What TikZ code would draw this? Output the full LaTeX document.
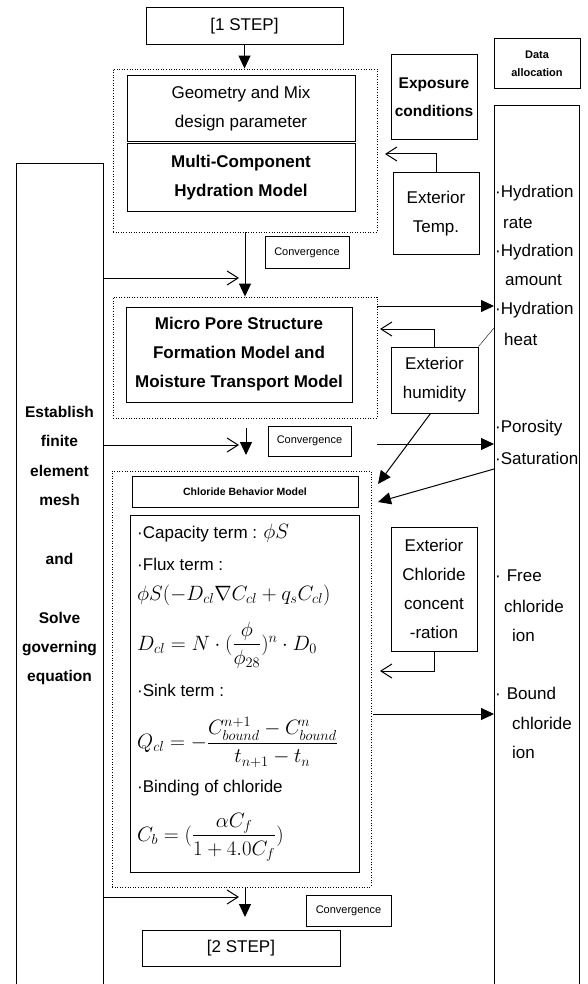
\documentclass[tikz,border=0pt]{standalone}
\usepackage{amsmath,amssymb}
\usepackage{fontspec}
\setmainfont{Liberation Sans}
\usepackage{tikz}
\usetikzlibrary{arrows.meta,positioning,calc}
\newcommand{\fs}{\fontsize{17}{29}\selectfont}

\begin{document}
\begin{tikzpicture}[x=1pt,y=-1pt,
        box/.style={rectangle, draw, line width=1pt, align=center, inner sep=0pt, font=\fs},
        frame/.style={rectangle, draw, line width=0.9pt, dash pattern=on 1pt off 1.6pt, inner sep=0pt},
        small/.style={box, font=\fontsize{11}{13}\selectfont},
        item/.style={anchor=west, inner sep=0pt, font=\fontsize{17}{20}\selectfont},
        eq/.style={item, font=\fontsize{21}{24}\selectfont},
        tri/.style={-{Triangle[length=13pt,width=12pt]}, line width=1pt},
        barb/.style={-{Straight Barb[length=11pt,width=14pt,line width=1pt]}, line width=1pt}
    ]
    \useasboundingbox (0,0) rectangle (587,984);
    \clip (0,0) rectangle (587,984);
    % dotted frames
    \node[frame, minimum width=264pt, minimum height=163pt] (frame1) at (245,150.5) {};
    \node[frame, minimum width=264pt, minimum height=121pt] (frame2) at (245,357.5) {};
    \node[frame, minimum width=259pt, minimum height=416pt] (frame3) at (241.5,679) {};
    % boxes
    \node[box, minimum width=197pt, minimum height=37pt] (step1) at (244.5,26.5) {[1 STEP]};
    \node[box, minimum width=228pt, minimum height=66pt] (geom) at (241,109) {Geometry and Mix\\design parameter};
    \node[box, minimum width=228pt, minimum height=68pt, font=\fs\bfseries] (hydr) at (241,178) {Multi-Component\\Hydration Model};
    \node[box, minimum width=86pt, minimum height=85pt, font=\fontsize{15.5}{28}\selectfont\bfseries] (expo) at (434,97.5) {Exposure\\conditions};
    \node[box, minimum width=86pt, minimum height=50pt, font=\fontsize{11}{18}\selectfont\bfseries] (dalloc) at (537,64) {Data\\allocation};
    \node[box, minimum width=85pt, minimum height=885pt, anchor=north west] (alloc) at (494,105) {};
    \node[box, minimum width=87pt, minimum height=830pt, anchor=north west] (fem) at (16,163) {};
    \node[align=center, font=\fontsize{15.5}{29.4}\selectfont\bfseries] (femtxt) at (59.5,545.5) {Establish\\finite\\element\\mesh\\[29.4pt]and\\[29.4pt]Solve\\governing\\equation};
    \node[box, minimum width=86pt, minimum height=81pt] (temp) at (436,213.5) {Exterior\\Temp.};
    \node[small, minimum width=84pt, minimum height=31pt] (conv1) at (307,252.5) {Convergence};
    \node[box, minimum width=226pt, minimum height=95pt, font=\fs\bfseries] (micro) at (239,354.5) {Micro Pore Structure\\Formation Model and\\Moisture Transport Model};
    \node[box, minimum width=87pt, minimum height=66pt] (humid) at (434.5,380) {Exterior\\humidity};
    \node[small, minimum width=83pt, minimum height=30pt] (conv2) at (309.5,441) {Convergence};
    \node[box, minimum width=226pt, minimum height=31pt, font=\fontsize{10.5}{12}\selectfont\bfseries] (cbm) at (245,491.5) {Chloride Behavior Model};
    \node[box, minimum width=229pt, minimum height=357pt] (eqs) at (244.5,693.5) {};
    \node[box, minimum width=86pt, minimum height=124pt] (chl) at (434,589) {Exterior\\Chloride\\concent\\-ration};
    \node[small, minimum width=85pt, minimum height=31pt] (conv3) at (348.5,910.5) {Convergence};
    \node[box, minimum width=198pt, minimum height=36pt] (step2) at (241,948) {[2 STEP]};
    % chloride model terms
    \node[item] (e1) at (137,533) {·Capacity term : \fontsize{20}{24}\selectfont$\phi S$};
    \node[item] (e2) at (137,564) {·Flux term :};
    \node[eq] (e3) at (137,595) {$\phi S(-D_{cl}\nabla C_{cl}+q_s C_{cl})$};
    \node[eq] (e4) at (137,645) {$D_{cl}=N\cdot(\dfrac{\phi}{\phi_{28}})^n\cdot D_0$};
    \node[item] (e5) at (137,690) {·Sink term :};
    \node[eq] (e6) at (137,742) {$Q_{cl}=-\dfrac{C_{bound}^{n+1}-C_{bound}^{n}}{t_{n+1}-t_n}$};
    \node[item] (e7) at (137,788) {·Binding of chloride};
    \node[eq] (e8) at (137,837) {$C_b=(\dfrac{\alpha C_f}{1+4.0C_f})$};
    % allocated data
    \node[item] (r1) at (495,193) {·Hydration};
    \node[item] (r2) at (503,223) {rate};
    \node[item] (r3) at (495,252) {·Hydration};
    \node[item] (r4) at (505,280) {amount};
    \node[item] (r5) at (495,310) {·Hydration};
    \node[item] (r6) at (504,339) {heat};
    \node[item] (r7) at (495,428) {·Porosity};
    \node[item] (r8) at (495,458) {·Saturation};
    \node[item] (r9) at (495,576) {·\hspace{6pt}Free};
    \node[item] (r10) at (504,606) {chloride};
    \node[item] (r11) at (512,635) {ion};
    \node[item] (r12) at (495,693) {·\hspace{6pt}Bound};
    \node[item] (r13) at (512,723) {chloride};
    \node[item] (r14) at (512,752) {ion};
    % connectors
    \coordinate (t1) at (385,154);
    \coordinate (a1) at (239,278);
    \coordinate (a2) at (239,445);
    \coordinate (a3) at (239,897);
    \coordinate (h1) at (380,329);
    \coordinate (h2) at (378,484);
    \coordinate (c2) at (380,671);
    \coordinate (o1) at (494,306);
    \coordinate (o2) at (494,328);
    \coordinate (o3) at (494,444);
    \coordinate (o4) at (494,469);
    \coordinate (o5) at (494,714);
    \coordinate (s1) at (378,502);
    \coordinate (d1) at (246,428);
    \coordinate (d2) at (246,455);
    \coordinate (d3) at (245,917);
    \draw[tri] (step1.south) -- (step1.south |- frame1.north);
    \draw[barb] (temp.north) |- (t1);
    \draw[tri] (frame1.south) -- (frame1.south |- frame2.north);
    \draw[barb] (fem.east |- a1) -- (a1);
    \draw[tri] (frame2.east |- o1) -- (o1);
    \draw[barb] (humid.north) |- (h1);
    \draw (humid.north east) -- (o2);
    \draw[tri] ([xshift=-4pt]humid.south) -- (h2);
    \draw[tri] (d1) -- (d2);
    \draw[barb] (fem.east |- a2) -- (a2);
    \draw[tri] (frame2.east |- o3) -- (o3);
    \draw[tri] (o4) -- (s1);
    \draw[barb] (chl.south) |- (c2);
    \draw[tri] ([xshift=2pt]frame3.east |- o5) -- (o5);
    \draw[barb] (fem.east |- a3) -- (a3);
    \draw[tri] (frame3.south -| d3) -- (d3);
\end{tikzpicture}
\end{document}
